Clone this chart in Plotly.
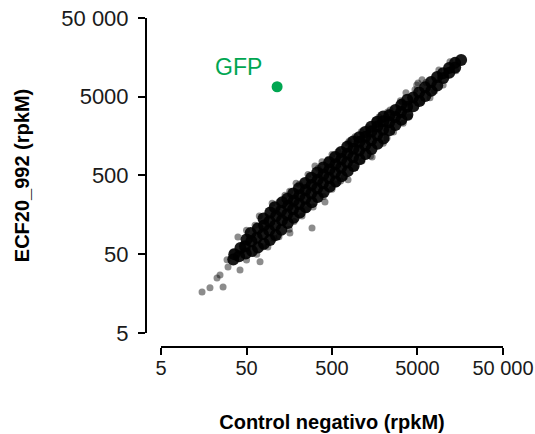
import math
import plotly.graph_objects as go

# ---- data (rpkM) ----
tick_vals = [5, 50, 500, 5000, 50000]
tick_text = ["5", "50", "500", "5000", "50 000"]

# dense core of genes
core_x = [35, 36, 41, 42.5, 49, 48, 50, 58, 57, 56, 68, 66, 68,
          80, 78, 80, 79, 94, 92, 93, 95, 110, 108, 111, 107, 128, 130, 127, 131,
          152, 149, 153, 150, 178, 175, 179, 176, 210, 206, 209, 205, 247, 243, 246, 242,
          290, 285, 289, 286, 340, 335, 341, 336, 400, 393, 398, 395, 470, 462, 468, 464,
          552, 543, 550, 545, 648, 638, 646, 640, 762, 750, 759, 752, 895, 882, 891, 884,
          1050, 1038, 1048, 1040, 1235, 1220, 1230, 1222, 1450, 1435, 1445, 1438,
          1705, 1685, 1700, 1688, 2000, 1980, 1995, 1985,
          2350, 2330, 2345, 2760, 2735, 2755, 3240, 3215, 3235, 3810, 3780, 3800,
          4470, 4440, 5250, 5220, 6170, 6130, 7250, 7200, 8510, 8470,
          10000, 9950, 11750, 11700, 13800, 13750, 16200]
core_y = [43, 50, 47, 60, 51, 63, 77, 55, 73, 93, 61, 81, 106,
          68, 90, 116, 142, 76, 100, 131, 169, 88, 116, 153, 197, 102, 135, 178, 229,
          125, 160, 207, 254, 145, 186, 240, 295, 169, 217, 280, 345, 197, 253, 326, 401,
          229, 295, 380, 468, 266, 343, 442, 544, 309, 398, 513, 632, 361, 465, 599, 738,
          420, 541, 697, 858, 488, 628, 809, 996, 568, 732, 943, 1160, 661, 851, 1096, 1349,
          805, 1037, 1337, 1535, 936, 1206, 1554, 1784, 1088, 1402, 1807, 2074,
          1267, 1633, 2104, 2415, 1475, 1900, 2449, 2811,
          1883, 2372, 2918, 2193, 2762, 3397, 2546, 3206, 3943, 2963, 3732, 4590,
          3784, 4875, 4405, 5675, 5128, 6606, 5956, 7672, 6938, 8938,
          8647, 9935, 10062, 11560, 11718, 13464, 14600]

# sparser genes at the edges of the cloud
edge_x = [15.1, 18.7, 26.6, 22.6, 24.5, 30.4, 29.6, 34.8, 39.7, 42, 72,
          50, 70.6, 99.8, 141, 190, 262, 316, 382, 587, 770, 929, 1316, 2390, 3300,
          3665, 4670, 4900, 5070, 5650, 8890, 11990, 63, 208, 500, 1774, 2233, 6295,
          792, 3155, 120, 160, 345, 450, 1100, 1600,
          50, 65.9, 88.9, 120, 158, 161, 292, 223, 301, 414, 500, 770, 929, 1473,
          1991, 2624, 7000, 3972, 9976, 79, 251, 630, 1120, 1409, 5609, 14090,
          397, 7924, 105, 180, 560, 700, 2200, 3400]
edge_y = [16.6, 18.7, 19.2, 25.0, 27.3, 34.5, 42.4, 53.4, 83, 31.6, 40,
          101, 153, 222, 281, 398, 515, 660, 745, 998, 1297, 1548, 2013, 3390, 4305,
          5610, 6120, 7070, 7500, 8200, 10965, 13870, 117, 387, 923, 2767, 3205, 7570,
          1359, 4435, 230, 315, 620, 800, 1800, 2500,
          42.2, 49.9, 61.7, 83.6, 103.5, 93.3, 108, 153, 199, 231, 335, 440, 625, 861,
          1285, 1786, 4840, 2760, 7030, 62.1, 183, 426, 766, 887, 4285, 10670,
          270, 5930, 80, 130, 390, 480, 1500, 2300]

gfp_x = [114]
gfp_y = [6700]
gfp_label = "GFP"

GREEN = "#00A651"
FONT = "Arial, 'Liberation Sans', Helvetica, sans-serif"

fig = go.Figure()
fig.add_trace(go.Scatter(x=edge_x, y=edge_y, mode="markers",
                         marker=dict(size=7, color="black", opacity=0.45),
                         showlegend=False, hoverinfo="x+y"))
fig.add_trace(go.Scatter(x=core_x, y=core_y, mode="markers",
                         marker=dict(size=12, color="black", opacity=0.9),
                         showlegend=False, hoverinfo="x+y"))
fig.add_trace(go.Scatter(x=gfp_x, y=gfp_y, mode="markers",
                         marker=dict(size=11, color=GREEN),
                         showlegend=False, name=gfp_label))

# label placed relative to the GFP point (log axes use log10 coordinates)
fig.add_annotation(x=math.log10(gfp_x[0]), y=math.log10(gfp_y[0]), xref="x", yref="y",
                   text=gfp_label, showarrow=False, xshift=-39, yshift=20,
                   font=dict(family=FONT, size=23, color=GREEN))

lo, hi = math.log10(5) - 1e-4, math.log10(50000) + 1e-4
axis_common = dict(
    type="log",
    range=[lo, hi],
    showgrid=False, zeroline=False,
    showline=True, linecolor="black", linewidth=2,
    ticks="outside", ticklen=7, tickwidth=2, tickcolor="black",
    tickvals=tick_vals, ticktext=tick_text,
    ticklabeloverflow="allow",
    automargin=False,
    anchor="free", position=0,
)

fig.update_layout(
    width=535, height=434,
    margin=dict(l=146, r=32, t=18, b=87),
    paper_bgcolor="white", plot_bgcolor="white",
    xaxis=dict(axis_common, domain=[0.042, 1], ticklabelstandoff=-4,
               tickfont=dict(family=FONT, size=20, color="#1a1a1a"),
               title=dict(text="<b>Control negativo (rpkM)</b>",
                          font=dict(family=FONT, size=20, color="black"), standoff=36)),
    yaxis=dict(axis_common, domain=[0.0426, 1], ticklabelstandoff=5,
               tickfont=dict(family=FONT, size=22, color="#1a1a1a"),
               title=dict(text="<b>ECF20_992 (rpkM)</b>",
                          font=dict(family=FONT, size=20, color="black"), standoff=25)),
)

fig.write_html("out.html", config={"displayModeBar": False},
               post_script="document.body.style.margin='0';")
